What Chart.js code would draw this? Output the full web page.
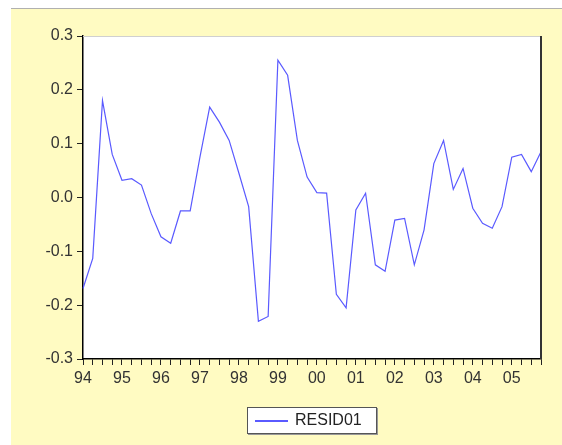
<!DOCTYPE html>
<html>
<head>
<meta charset="utf-8">
<script src="https://cdn.jsdelivr.net/npm/chart.js@4"></script>
<style>
  body { margin: 0; background: #fff; }
  #wrap { position: relative; width: 562px; height: 445px; }
  #legend {
    position: absolute; left: 247px; top: 407px; width: 128px; height: 25px;
    background: #fff; border: 1px solid #555; box-shadow: 1px 1px 0 #999;
    font: 16px "Liberation Sans", Arial, sans-serif; color: #222;
  }
  #legend .ln { position: absolute; left: 7px; top: 12px; width: 33px; height: 0; border-top: 2px solid #5a5aff; }
  #legend .tx { position: absolute; left: 47px; top: 3px; }
</style>
</head>
<body>
<div id="wrap">
  <canvas id="chart" width="562" height="445"></canvas>
  <div id="legend"><span class="ln"></span><span class="tx">RESID01</span></div>
</div>
<script>
// quarterly residuals 1994Q1 - 2005Q4
var years = ['94','95','96','97','98','99','00','01','02','03','04','05'];
var resid01 = [
  -0.169, -0.113, 0.180, 0.080,
   0.032, 0.035, 0.023, -0.030,
  -0.073, -0.085, -0.025, -0.025,
   0.075, 0.168, 0.140, 0.106,
   0.045, -0.017, -0.230, -0.221,
   0.255, 0.227, 0.106, 0.038,
   0.009, 0.008, -0.180, -0.205,
  -0.023, 0.008, -0.125, -0.137,
  -0.042, -0.039, -0.125, -0.060,
   0.063, 0.106, 0.015, 0.054,
  -0.020, -0.048, -0.057, -0.017,
   0.075, 0.080, 0.048, 0.085
];
var yTicks = [-0.3, -0.2, -0.1, 0.0, 0.1, 0.2, 0.3];

var labels = [];
years.forEach(function(y){
  for (var q = 1; q <= 4; q++) labels.push(q == 1 ? y : '');
});

var bgPlugin = {
  id: 'bg',
  beforeDraw: function(chart){
    var c = chart.ctx, a = chart.chartArea;
    c.save();
    c.fillStyle = '#fff';
    c.fillRect(0, 0, chart.width, chart.height);
    c.fillStyle = '#fffbc2';
    c.fillRect(11, 9, chart.width - 11, chart.height - 9);
    c.fillStyle = '#b0b0b0';
    c.fillRect(11, 8, chart.width - 11, 1);
    c.fillStyle = '#fff';
    c.fillRect(a.left, a.top, a.right - a.left, a.bottom - a.top);
    c.restore();
  },
  afterDraw: function(chart){
    var c = chart.ctx, a = chart.chartArea;
    c.save();
    c.strokeStyle = '#d0d0d0';
    c.lineWidth = 1;
    c.beginPath();
    c.moveTo(a.left, a.top + 0.5);
    c.lineTo(a.right, a.top + 0.5);
    c.stroke();
    c.strokeStyle = '#333';
    c.lineWidth = 2;
    c.beginPath();
    c.moveTo(a.right, a.top);
    c.lineTo(a.right, a.bottom);
    c.stroke();
    c.restore();
  }
};

var font = { family: '"Liberation Sans", Arial, sans-serif', size: 16 };

var ctx = document.getElementById('chart').getContext('2d');
var chart = new Chart(ctx, {
  type: 'line',
  data: {
    labels: labels,
    datasets: [{
      label: 'RESID01',
      data: resid01,
      borderColor: '#5a5aff',
      borderWidth: 1.2,
      pointRadius: 0,
      tension: 0,
      fill: false
    }]
  },
  options: {
    responsive: false,
    animation: false,
    layout: { padding: { top: 36, right: 21, left: 0, bottom: 0 } },
    plugins: { legend: { display: false }, tooltip: { enabled: false } },
    scales: {
      x: {
        offset: false,
        grid: { drawOnChartArea: false, tickLength: 6, color: '#222' },
        border: { color: '#000', width: 1.5 },
        ticks: { autoSkip: false, maxRotation: 0, padding: 4, color: '#333', font: font },
        afterFit: function(s){ s.height = 445 - 359; }
      },
      y: {
        min: -0.3, max: 0.3,
        afterBuildTicks: function(s){ s.ticks = yTicks.map(function(v){ return { value: v }; }); },
        grid: { drawOnChartArea: false, tickLength: 6, color: '#222' },
        border: { color: '#000', width: 1.5 },
        ticks: {
          padding: 4, color: '#333', font: font,
          callback: function(v){ return Number(v).toFixed(1); }
        },
        afterFit: function(s){ s.width = 83; }
      }
    }
  },
  plugins: [bgPlugin]
});
</script>
</body>
</html>
